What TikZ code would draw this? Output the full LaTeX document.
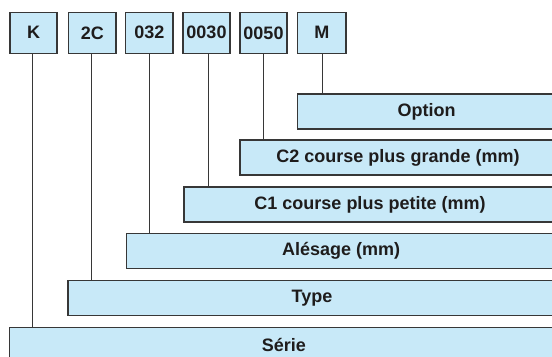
\documentclass[tikz,border=0pt]{standalone}
\usepackage{fontspec}
\setmainfont{Liberation Sans}
\definecolor{boxfill}{RGB}{200,233,248}
\definecolor{boxline}{RGB}{55,55,55}
\definecolor{txt}{RGB}{30,28,28}
\begin{document}
\begin{tikzpicture}[x=1bp,y=-1bp,
  every node/.style={inner sep=0pt,outer sep=0pt,font=\fontsize{18bp}{21bp}\selectfont\bfseries,text=txt},
  codebox/.style={draw=boxline,line width=1.3bp,fill=boxfill,minimum height=41bp,anchor=north west},
  labelbox/.style={draw=boxline,line width=1.3bp,fill=boxfill,minimum height=35bp,anchor=north west},
  link/.style={draw=boxline,line width=1bp}]
\useasboundingbox (0,0) rectangle (552,356);
% code boxes
\node[codebox,minimum width=47bp] (K) at (10,12.3) {K};
\node[codebox,minimum width=47.3bp] (C2C) at (68.7,12.3) {2C};
\node[codebox,minimum width=47.3bp] (A032) at (125.7,12.3) {032};
\node[codebox,minimum width=47bp] (A0030) at (183,12.3) {0030};
\node[codebox,minimum width=47bp] (A0050) at (240,12.3) {0050};
\node[codebox,minimum width=48.3bp] (M) at (297.7,12.3) {M};
% label boxes
\node[labelbox,minimum width=258.7bp] (opt) at (297.3,94) {Option};
\node[labelbox,minimum width=316bp] (c2) at (240,140) {C2 course plus grande (mm)};
\node[labelbox,minimum width=372bp] (c1) at (184,187) {C1 course plus petite (mm)};
\node[labelbox,minimum width=429.7bp] (ale) at (126.3,233.5) {Alésage (mm)};
\node[labelbox,minimum width=488bp] (typ) at (68,280.5) {Type};
\node[labelbox,minimum width=548.3bp] (ser) at (9.7,327.3) {Série};
% connectors
\draw[link] ([xshift=-1bp]K.south) -- ([xshift=-1bp]K.south |- ser.north);
\draw[link] ([xshift=-0.6bp]C2C.south) -- ([xshift=-0.6bp]C2C.south |- typ.north);
\draw[link] ([xshift=-0.3bp]A032.south) -- ([xshift=-0.3bp]A032.south |- ale.north);
\draw[link] ([xshift=1.5bp]A0030.south) -- ([xshift=1.5bp]A0030.south |- c1.north);
\draw[link] ([xshift=-0.5bp]A0050.south) -- ([xshift=-0.5bp]A0050.south |- c2.north);
\draw[link] ([xshift=0.8bp]M.south) -- ([xshift=0.8bp]M.south |- opt.north);
\end{tikzpicture}
\end{document}
